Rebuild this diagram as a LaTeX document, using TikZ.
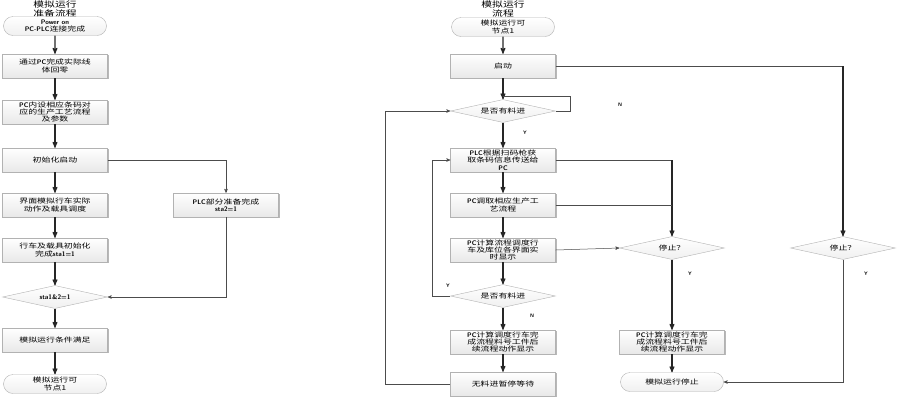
\documentclass[tikz,border=0pt]{standalone}
\usepackage{fontspec}
\newfontfamily\cjk[FakeStretch=1.35]{Noto Sans CJK SC}
\usetikzlibrary{arrows, positioning, calc, shapes.geometric, shapes.misc, shadows}
\tikzset{
    %Define standard arrow tip
    >=stealth',
    %Define style for boxes
    boite/.style={
           rectangle,
           draw=gray!60, thin,
           top color=white, bottom color=gray!18,
           drop shadow={shadow xshift=1pt, shadow yshift=-1pt, fill=gray!70, opacity=0.8},
           minimum width=105pt,
           minimum height=24pt,
           inner sep=1pt,
           align=center,
           font=\cjk\fontsize{6.6}{7.4}\selectfont},
    % Define style for decisions
    losange/.style={
           diamond,
           draw=gray!60, thin,
           top color=white, bottom color=gray!12,
           aspect=4.5,
           minimum width=105pt,
           minimum height=23pt,
           inner sep=0pt,
           font=\cjk\fontsize{6.6}{7.4}\selectfont},
    % Define style for start / end
    terminal/.style={
           rounded rectangle,
           draw=gray!60, thin,
           top color=white, bottom color=gray!12,
           minimum width=105pt,
           minimum height=19pt,
           inner sep=1pt,
           align=center,
           font=\cjk\fontsize{6.6}{7.4}\selectfont},
    titre/.style={align=center, font=\cjk\fontsize{8}{9}\selectfont},
    etiq/.style={font=\sffamily\bfseries\fontsize{5}{5}\selectfont},
    % Define arrow styles
    fleche/.style={->, line width=1.1pt, draw=gray!30!black},
    lien/.style={line width=0.5pt, draw=gray!60!black},
}

\begin{document}
\begin{tikzpicture}[x=1pt, y=-1pt]
	\useasboundingbox (0,0) rectangle (903,400);
	%
	% preparation
	%
	\node[titre] (titreA) at (55,9) {模拟运行\\准备流程};
	\node[terminal] (debutA) at (55,26) {{\sffamily\bfseries Power on}\\{\sffamily\bfseries PC-PLC}连接完成};
	\node[boite] (retour) at (55,66) {通过{\sffamily\bfseries PC}完成实际线\\体回零};
	\node[boite] (param) at (55,112) {{\sffamily\bfseries PC}内设相应条码对\\应的生产工艺流程\\及参数};
	\node[boite] (init) at (55,160) {初始化启动};
	\node[boite] (ecran) at (55,205) {界面模拟行车实际\\动作及载具调度};
	\node[boite] (sta1) at (55,250) {行车及载具初始化\\完成{\sffamily\bfseries sta1=1}};
	\node[boite] (sta2) at (226,205) {{\sffamily\bfseries PLC}部分准备完成\\{\sffamily\bfseries sta2=1}};
	\node[losange] (testA) at (55,297) {{\sffamily\bfseries sta1\&2=1}};
	\node[boite] (cond) at (55,340) {模拟运行条件满足};
	\node[terminal] (finA) at (55,384) {模拟运行可\\节点1};
	%
	\draw[fleche] (debutA) -- (retour);
	\draw[fleche] (retour) -- (param);
	\draw[fleche] (param) -- (init);
	\draw[fleche] (init) -- (ecran);
	\draw[fleche] (ecran) -- (sta1);
	\draw[fleche] (sta1) -- (testA);
	\draw[fleche] (testA) -- (cond);
	\draw[fleche] (cond) -- (finA);
	\draw[lien, ->] (init.east) -| (sta2.north);
	\draw[lien, ->] (sta2.south) |- (testA.east);
	%
	% simulation
	%
	\node[titre] (titreB) at (503,9) {模拟运行\\流程};
	\node[terminal] (debutB) at (503,27) {模拟运行可\\节点1};
	\node[boite] (demarrer) at (503,66) {启动};
	\node[losange] (testB) at (503,111) {是否有料进};
	\node[boite] (scan) at (503,160) {{\sffamily\bfseries PLC}根据扫码枪获\\取条码信息传送给\\{\sffamily\bfseries PC}};
	\node[boite] (flux) at (503,205) {{\sffamily\bfseries PC}调取相应生产工\\艺流程};
	\node[boite] (calc) at (503,250) {{\sffamily\bfseries PC}计算流程调度行\\车及库位各界面实\\时显示};
	\node[losange] (testC) at (503,296) {是否有料进};
	\node[boite] (suite) at (503,342) {{\sffamily\bfseries PC}计算调度行车完\\成流程料号工件后\\续流程动作显示};
	\node[boite] (pause) at (503,384) {无料进暂停等待};
	\node[losange] (arretA) at (672,248) {停止？};
	\node[boite] (suite2) at (672,342) {{\sffamily\bfseries PC}计算调度行车完\\成流程料号工件后\\续流程动作显示};
	\node[terminal] (finB) at (672,382) {模拟运行停止};
	\node[losange] (arretB) at (843,248) {停止？};
	%
	\coordinate (boucle) at (570,96);
	\coordinate (coudeA) at (arretA.north |- scan.east);
	\coordinate (coudeB) at (arretB.north |- demarrer.east);
	\coordinate (gauche) at (432,296);
	\coordinate (bas) at (385,384);
	%
	\draw[fleche] (debutB) -- (demarrer);
	\draw[fleche] (demarrer) -- (testB);
	\draw[fleche] (testB) -- (scan);
	\draw[fleche] (scan) -- (flux);
	\draw[fleche] (flux) -- (calc);
	\draw[fleche] (calc) -- (testC);
	\draw[fleche] (testC) -- (suite);
	\draw[fleche] (suite) -- (pause);
	\draw[lien] (testB.east) -| (boucle) -- (demarrer.south |- boucle);
	\draw[lien, ->] (testC.west) -- (gauche) |- (scan.west);
	\draw[lien, ->] (pause.west) -- (bas) |- (testB.west);
	\draw[lien] (scan.east) -- (coudeA);
	\draw[fleche] (coudeA) -- (arretA.north);
	\draw[lien] (flux.east) -- (flux.east -| coudeA);
	\draw[lien, ->] (calc.east) -- (arretA.west);
	\draw[fleche] (arretA) -- (suite2);
	\draw[fleche] (suite2) -- (finB);
	\draw[lien] (demarrer.east) -- (coudeB);
	\draw[fleche] (coudeB) -- (arretB.north);
	\draw[lien, ->] (arretB.south) |- (finB.east);
	%
	% etiquettes
	%
	\node[etiq] (nB) at (620,105) {N};
	\node[etiq] (yB) at (525,133) {Y};
	\node[etiq] (yC) at (448,286) {Y};
	\node[etiq] (nC) at (532,316) {N};
	\node[etiq] (yA) at (690,274) {Y};
	\node[etiq] (yD) at (866,274) {Y};
\end{tikzpicture}
\end{document}
